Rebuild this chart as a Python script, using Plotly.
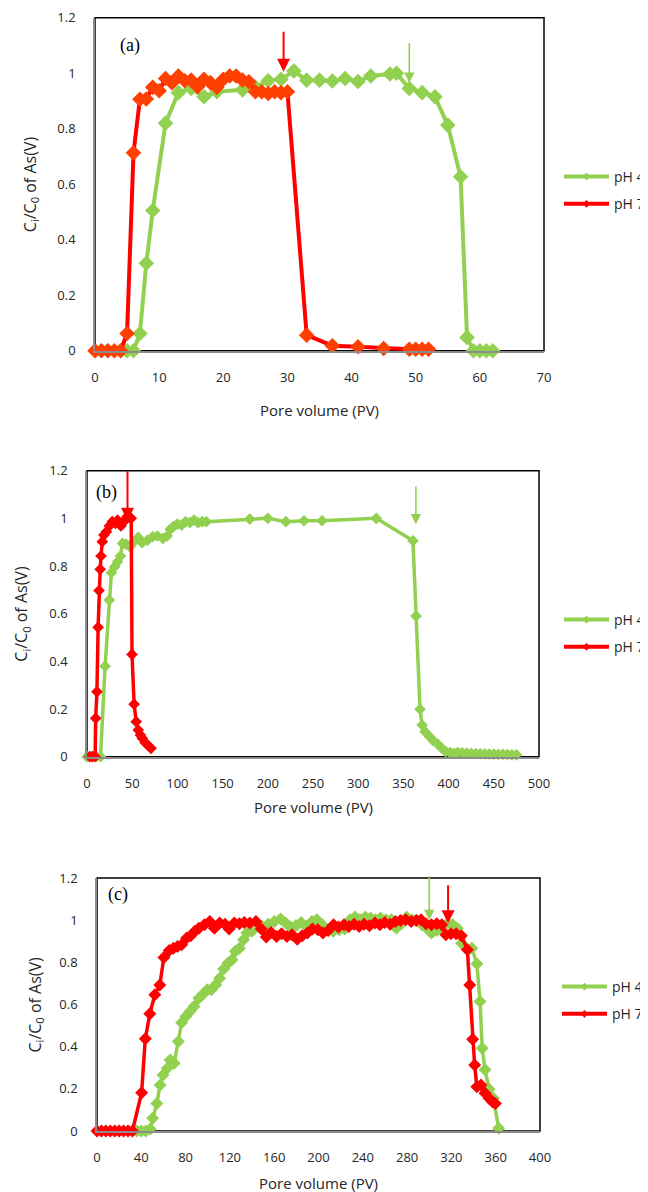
import plotly.graph_objects as go

# ---------------- data ----------------
# Panel (a)
a_ph4_x = [5, 6, 7, 8, 9, 11, 13, 15, 17, 19, 23, 25, 27, 29, 31, 33, 35, 37, 39, 41, 43, 46, 47, 49, 51, 53, 55, 57, 58, 59, 60, 61, 62]
a_ph4_y = [0, 0, 0.062, 0.315, 0.505, 0.82, 0.93, 0.945, 0.915, 0.933, 0.94, 0.95, 0.973, 0.978, 1.008, 0.975, 0.975, 0.972, 0.981, 0.97, 0.99, 0.997, 1.0, 0.945, 0.93, 0.915, 0.813, 0.627, 0.048, 0, 0, 0, 0]
a_ph7_x = [0, 1, 2, 3, 4, 5, 6, 7, 8, 9, 10, 11, 12, 13, 14, 15, 16, 17, 18, 19, 20, 21, 22, 23, 24, 25, 26, 27, 28, 29, 30, 33, 37, 41, 45, 49, 50, 51, 52]
a_ph7_y = [0, 0, 0, 0, 0, 0.062, 0.713, 0.906, 0.907, 0.949, 0.937, 0.981, 0.966, 0.99, 0.973, 0.975, 0.951, 0.978, 0.966, 0.949, 0.978, 0.99, 0.99, 0.975, 0.969, 0.933, 0.933, 0.927, 0.933, 0.93, 0.933, 0.056, 0.018, 0.014, 0.008, 0.005, 0.005, 0.005, 0.005]

# Panel (b)
b_ph4_x = [0, 5, 10, 15, 20, 24.7, 27, 30.6, 33.8, 37, 39.3, 43, 47.5, 52, 56.7, 61, 67, 72.7, 78, 84, 88.7, 92, 95.5, 100, 104.7, 109, 113.8, 118.4, 123, 127.5, 132,
           180, 200, 220, 240, 260, 320, 360.6, 364, 368.4, 370.7, 374, 379, 383, 388, 392.6, 397, 401.7, 406,
           410, 415, 420, 425, 430, 435, 440, 445, 450, 455, 460, 465, 470, 475]
b_ph4_y = [0, 0, 0, 0, 0.38, 0.657, 0.772, 0.797, 0.818, 0.842, 0.895, 0.892, 0.881, 0.902, 0.92, 0.898, 0.909, 0.923, 0.926, 0.916, 0.926, 0.954, 0.965, 0.976, 0.972, 0.986, 0.982, 0.993, 0.982, 0.986, 0.986,
           0.997, 1.0, 0.986, 0.99, 0.99, 1.0, 0.906, 0.59, 0.199, 0.133, 0.105, 0.084, 0.067, 0.053, 0.035, 0.021, 0.017, 0.014,
           0.018, 0.016, 0.015, 0.014, 0.013, 0.012, 0.012, 0.011, 0.011, 0.01, 0.01, 0.009, 0.008, 0.008]
b_ph7_x = [3, 6, 9, 9.6, 11, 12.3, 13.3, 14.6, 15.5, 16.9, 18.7, 21.5, 24.7, 27.9, 31.5, 33.8, 37.5, 40.7, 44.3, 47.5, 48.9, 49.8, 52.1, 54.4, 56.7, 59, 61.2, 64.4, 68.1, 70.8]
b_ph7_y = [0, 0, 0, 0.161, 0.273, 0.543, 0.697, 0.786, 0.842, 0.902, 0.93, 0.944, 0.968, 0.986, 0.979, 0.993, 0.968, 0.986, 1.007, 1.004, 1.0, 0.429, 0.22, 0.147, 0.112, 0.091, 0.077, 0.059, 0.045, 0.035]

# Panel (c)
c_ph4_x = [36, 40, 44, 48, 50.3, 54, 57, 59.6, 63.4, 66, 69.7, 73.4, 76.4, 80.2, 83.9, 87.6, 92, 95.8, 99.5, 103.3, 107, 110.7, 114.4, 118.2, 121.9, 124.9, 128.6, 132.3, 135.3, 139.8,
           149.1, 154.6, 160.2, 165.8, 170.3, 175, 179.5, 184.4, 189.2, 194, 198.4, 203.4, 208.4, 213.3, 218.8, 223.7, 228.5, 233, 237.5, 242.3, 247, 251.6, 256, 261, 265.8,
           270.3, 274.7, 279.6, 284.4, 289, 293.4, 298.2, 302, 306.8, 311.3, 316.9, 321.3, 325.4, 329.2, 333.6, 338.5, 343, 345.9, 347.8, 350.4, 354, 357.9, 362.7]
c_ph4_y = [0, 0, 0, 0.01, 0.06, 0.131, 0.218, 0.266, 0.298, 0.337, 0.321, 0.424, 0.514, 0.543, 0.567, 0.59, 0.63, 0.65, 0.67, 0.67, 0.693, 0.725, 0.768, 0.796, 0.812, 0.852, 0.867, 0.907, 0.939, 0.947,
           0.97, 0.981, 0.994, 1.005, 0.986, 0.966, 0.974, 0.989, 0.97, 0.994, 1.002, 0.978, 0.951, 0.947, 0.955, 0.958, 1.002, 1.015, 1.002, 1.015, 1.01, 1.002, 1.01, 1.002, 1.002,
           0.962, 0.983, 1.015, 1.002, 0.999, 0.978, 0.959, 0.939, 0.951, 0.967, 0.986, 0.978, 0.962, 0.891, 0.867, 0.867, 0.793, 0.614, 0.393, 0.29, 0.198, 0.155, 0.013]
c_ph7_x = [0, 4, 8, 12, 16, 20, 24, 28, 32, 40.3, 43.6, 47.7, 52.2, 56.7, 60.4, 65.2, 69, 72.7, 76.4, 81, 84.6, 88.3, 92, 97, 101.8, 106, 110.7, 115.6, 119.3, 124, 128.6, 133, 138, 143.5,
           148.4, 152.8, 157.3, 162, 166.6, 171.5, 176, 180.8, 185.3, 190, 194.6, 199.4, 204, 208.8, 213.6, 218, 223, 227.4, 232.2, 236.7, 241.2, 246, 250.9, 255.4, 259.8, 264.7,
           269.5, 274, 278.8, 283.7, 288.2, 292.6, 297, 302, 306.8, 311.3, 315, 319.5, 324.3, 329, 334.4, 336.6, 339.2, 341, 343, 346.7, 350.4, 354, 357, 359.7]
c_ph7_y = [0, 0, 0, 0, 0, 0, 0, 0, 0, 0.182, 0.437, 0.556, 0.646, 0.693, 0.823, 0.856, 0.867, 0.875, 0.883, 0.915, 0.926, 0.947, 0.962, 0.978, 0.994, 0.962, 0.986, 0.981, 0.958, 0.986, 0.983, 0.989, 0.986, 0.994,
           0.958, 0.92, 0.942, 0.923, 0.936, 0.923, 0.931, 0.91, 0.926, 0.939, 0.958, 0.955, 0.939, 0.951, 0.978, 0.967, 0.978, 0.97, 0.981, 0.97, 0.981, 0.974, 0.986, 0.978, 0.989, 0.981,
           0.994, 0.999, 1.002, 0.994, 0.999, 1.002, 0.983, 0.978, 0.983, 0.978, 0.931, 0.936, 0.936, 0.926, 0.86, 0.693, 0.435, 0.313, 0.21, 0.218, 0.179, 0.155, 0.139, 0.131]

series_names = ["pH 4", "pH 7"]
panel_labels = ["(a)", "(b)", "(c)"]
x_ranges = [[0, 70], [0, 500], [0, 400]]
x_dticks = [10, 50, 40]
# arrows: (x, y_tail, y_head, colour key)
arrows = [
    [(29.4, 1.155, 1.005, "red"), (49.0, 1.113, 0.965, "green")],
    [(44.8, 1.205, 0.99, "red"), (363.8, 1.14, 0.975, "green")],
    [(300.0, 1.215, 1.0, "green"), (317.0, 1.173, 0.985, "red")],
]
label_pos = [(5.4, 1.10), (21.5, 1.11), (18.6, 1.12)]

# ---------------- styling ----------------
GREEN = "#92D050"
RED = "#FF0000"
RED_MK = ["#FF4000", "#FF0000", "#FF0000"]
AXIS_GRAY = "#8C8C8C"
TXT = "#262626"
OFF = 8                       # page body margin of the html page
W, H = 648 - OFF, 1192 - OFF  # figure size so that it fits in the window


def px_x(p):
    return (p - OFF) / W


def px_y(p):
    return 1 - (p - OFF) / H


# plot-area pixel boxes in window coordinates (left, right, top, bottom)
boxes = [(95, 544, 17.7, 350.7), (87, 539, 470.7, 756.7), (97, 540, 878, 1131)]
msizes = [12, 9, 10]
lwidths = [4, 3.5, 3.5]
legend_tops = [161, 604, 971]
legend_x = [559, 559, 557]
ytitle_x = [30, 22, 35]
xtitle_y = [410, 807, 1183]

data = [
    (a_ph4_x, a_ph4_y, a_ph7_x, a_ph7_y),
    (b_ph4_x, b_ph4_y, b_ph7_x, b_ph7_y),
    (c_ph4_x, c_ph4_y, c_ph7_x, c_ph7_y),
]

fig = go.Figure()
annotations = []
shapes = []
layout = {}

for i, (x4, y4, x7, y7) in enumerate(data):
    n = "" if i == 0 else str(i + 1)
    xa, ya = "x" + n, "y" + n
    lg = "legend" + n
    series = [(x4, y4, GREEN, GREEN), (x7, y7, RED, RED_MK[i])]
    for k, (xs, ys, lc, mc) in enumerate(series):
        fig.add_trace(go.Scatter(
            x=xs, y=ys, name=series_names[k], mode="lines+markers", xaxis=xa, yaxis=ya,
            line=dict(color=lc, width=lwidths[i]),
            marker=dict(symbol="diamond", size=msizes[i], color=mc),
            cliponaxis=False, showlegend=False))
    # legend entries (small marker on the line sample, as in the reference)
    for k, (xs, ys, lc, mc) in enumerate(series):
        fig.add_trace(go.Scatter(
            x=[None], y=[None], name=series_names[k], mode="lines+markers", xaxis=xa, yaxis=ya,
            line=dict(color=lc, width=4), marker=dict(symbol="diamond", size=6, color=lc),
            legend=lg, legendgroup="g%d_%d" % (i, k)))

    l, r, t, b = boxes[i]
    layout["xaxis" + n] = dict(
        domain=[px_x(l), px_x(r)], anchor=ya, range=x_ranges[i], dtick=x_dticks[i], tick0=0,
        showgrid=False, zeroline=False, showline=True, linecolor=AXIS_GRAY, linewidth=1.5,
        ticks="", ticklabelstandoff=14, automargin=False,
        tickfont=dict(family="Open Sans", size=13, color=TXT))
    layout["yaxis" + n] = dict(
        domain=[px_y(b), px_y(t)], anchor=xa, range=[0, 1.2], dtick=0.2, tick0=0,
        showgrid=False, zeroline=False, showline=True, linecolor=AXIS_GRAY, linewidth=1.5,
        ticks="", ticklabelstandoff=15, automargin=False,
        tickfont=dict(family="Open Sans", size=13, color=TXT))
    layout[lg] = dict(
        x=px_x(legend_x[i]), y=px_y(legend_tops[i]), xanchor="left", yanchor="top",
        bgcolor="rgba(0,0,0,0)", font=dict(family="Open Sans", size=14, color=TXT),
        itemwidth=45, tracegroupgap=6)

    # black frame (top & right visible above gray axes)
    shapes.append(dict(type="rect", xref=xa + " domain", yref=ya + " domain",
                       x0=0, x1=1, y0=0, y1=1, line=dict(color="#000000", width=1.5),
                       layer="below"))

    # panel label
    annotations.append(dict(x=label_pos[i][0], y=label_pos[i][1], xref=xa, yref=ya,
                            text=panel_labels[i], showarrow=False,
                            font=dict(family="Liberation Serif", size=18, color="#000")))
    # arrows
    for (ax_, ytail, yhead, ck) in arrows[i]:
        col = RED if ck == "red" else GREEN
        annotations.append(dict(x=ax_, y=yhead, ax=ax_, ay=ytail, xref=xa, yref=ya,
                                axref=xa, ayref=ya, text="", showarrow=True,
                                arrowhead=2, arrowsize=1.3, arrowwidth=2 if ck == "red" else 1.6,
                                arrowcolor=col))
    # axis titles
    annotations.append(dict(x=px_x(ytitle_x[i]), y=px_y((t + b) / 2), xref="paper", yref="paper",
                            xanchor="center", yanchor="middle",
                            text="C<sub>i</sub>/C<sub>0</sub> of As(V)", textangle=-90, showarrow=False,
                            font=dict(family="Open Sans", size=16, color=TXT)))
    annotations.append(dict(x=px_x((l + r) / 2), y=px_y(xtitle_y[i]), xref="paper", yref="paper",
                            xanchor="center", yanchor="middle",
                            text="Pore volume (PV)", showarrow=False,
                            font=dict(family="Open Sans", size=15, color=TXT)))

fig.update_layout(
    width=W, height=H, margin=dict(l=0, r=0, t=0, b=0, autoexpand=False),
    paper_bgcolor="white", plot_bgcolor="white",
    annotations=annotations, shapes=shapes, **layout)

fig.write_html("out.html")
